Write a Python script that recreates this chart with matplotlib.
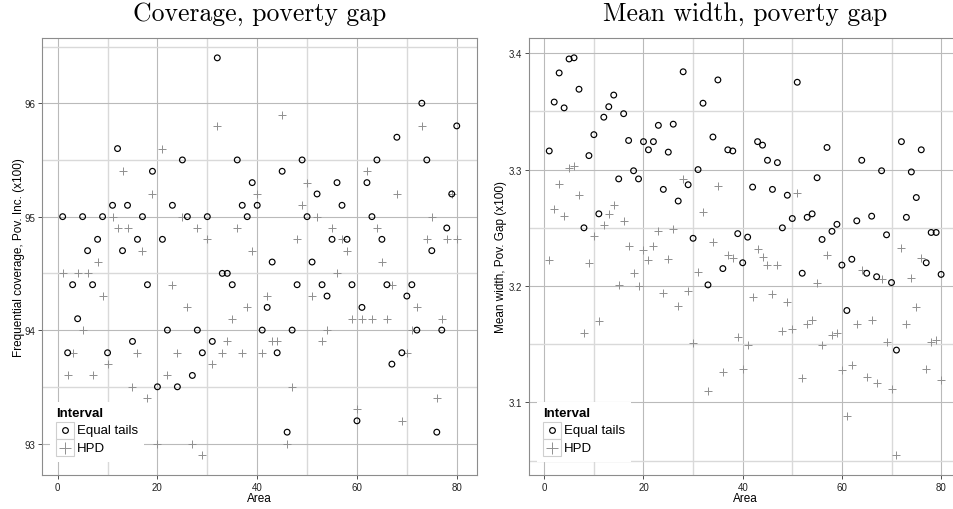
import matplotlib
matplotlib.use('Agg')
import matplotlib.pyplot as plt
from matplotlib.patches import Rectangle

area = list(range(1, 81))

cov_equal = [95.0, 93.8, 94.4, 94.1, 95.0, 94.7, 94.4, 94.8, 95.0, 93.8,
             95.1, 95.6, 94.7, 95.1, 93.9, 94.8, 95.0, 94.4, 95.4, 93.5,
             94.8, 94.0, 95.1, 93.5, 95.5, 95.0, 93.6, 94.0, 93.8, 95.0,
             93.9, 96.4, 94.5, 94.5, 94.4, 95.5, 95.1, 95.0, 95.3, 95.1,
             94.0, 94.2, 94.6, 93.8, 95.4, 93.1, 94.0, 94.4, 95.5, 95.0,
             94.6, 95.2, 94.4, 94.3, 94.8, 95.3, 95.1, 94.8, 94.4, 93.2,
             94.2, 95.3, 95.0, 95.5, 94.8, 94.4, 93.7, 95.7, 93.8, 94.3,
             94.4, 94.0, 96.0, 95.5, 94.7, 93.1, 94.0, 94.9, 95.2, 95.8]

cov_hpd = [94.5, 93.6, 93.8, 94.5, 94.0, 94.5, 93.6, 94.6, 94.3, 93.7,
           95.0, 94.9, 95.4, 94.9, 93.5, 93.8, 94.7, 93.4, 95.2, 93.0,
           95.6, 93.6, 94.4, 93.8, 95.0, 94.2, 93.0, 94.9, 92.9, 94.8,
           93.7, 95.8, 93.8, 93.9, 94.1, 94.9, 93.8, 94.2, 94.7, 95.2,
           93.8, 94.3, 93.9, 93.9, 95.9, 93.0, 93.5, 94.8, 95.1, 95.3,
           94.3, 95.0, 93.9, 94.0, 94.9, 94.5, 94.8, 94.7, 94.1, 93.3,
           94.1, 95.4, 94.1, 94.9, 94.6, 94.1, 94.4, 95.2, 93.2, 93.8,
           94.0, 94.2, 95.8, 94.8, 95.0, 93.4, 94.1, 94.8, 95.2, 94.8]

width_equal = [3.316, 3.358, 3.383, 3.353, 3.395, 3.396, 3.369, 3.250, 3.312, 3.330,
               3.262, 3.345, 3.354, 3.364, 3.292, 3.348, 3.325, 3.299, 3.292, 3.324,
               3.317, 3.324, 3.338, 3.283, 3.315, 3.339, 3.273, 3.384, 3.287, 3.241,
               3.300, 3.357, 3.201, 3.328, 3.377, 3.215, 3.317, 3.316, 3.245, 3.220,
               3.242, 3.285, 3.324, 3.321, 3.308, 3.283, 3.306, 3.250, 3.278, 3.258,
               3.375, 3.211, 3.259, 3.262, 3.293, 3.240, 3.319, 3.247, 3.253, 3.218,
               3.179, 3.223, 3.256, 3.308, 3.211, 3.260, 3.208, 3.299, 3.244, 3.203,
               3.145, 3.324, 3.259, 3.298, 3.276, 3.317, 3.220, 3.246, 3.246, 3.210]

width_hpd = [3.222, 3.266, 3.288, 3.260, 3.301, 3.303, 3.278, 3.160, 3.220, 3.243,
             3.170, 3.252, 3.262, 3.270, 3.201, 3.256, 3.234, 3.211, 3.200, 3.231,
             3.222, 3.234, 3.247, 3.194, 3.223, 3.249, 3.183, 3.292, 3.196, 3.151,
             3.212, 3.264, 3.110, 3.238, 3.286, 3.126, 3.227, 3.224, 3.156, 3.129,
             3.149, 3.191, 3.232, 3.225, 3.218, 3.193, 3.218, 3.161, 3.186, 3.163,
             3.280, 3.121, 3.167, 3.171, 3.203, 3.149, 3.227, 3.158, 3.160, 3.128,
             3.088, 3.132, 3.167, 3.214, 3.122, 3.171, 3.117, 3.206, 3.152, 3.112,
             3.055, 3.233, 3.167, 3.207, 3.182, 3.224, 3.129, 3.152, 3.154, 3.119]

legend_title = 'Interval'
legend_labels = ['Equal tails', 'HPD']

plt.rcParams['font.family'] = ['Liberation Sans', 'DejaVu Sans']

W, H = 954, 510
fig = plt.figure(figsize=(W / 100, H / 100), dpi=100)

HPD_COLOR = '#8f8f8f'


def style_axes(ax):
    ax.set_axisbelow(True)
    ax.grid(which='major', color='#bababa', lw=0.8)
    ax.grid(which='minor', color='#d9d9d9', lw=1.0)
    ax.tick_params(which='major', length=3, width=0.6, color='#333333',
                   labelsize=7, labelcolor='#222222', pad=2)
    ax.tick_params(which='minor', length=0)
    for s in ax.spines.values():
        s.set_color('#8c8c8c')
        s.set_linewidth(0.8)


def draw_legend(ax, w_px, h_px):
    # legend drawn inside the panel, bottom left, sizes in pixels
    fx = lambda p: p / w_px
    fy = lambda p: p / h_px
    tr = ax.transAxes
    ax.add_patch(Rectangle((fx(8), fy(12.5)), fx(94), fy(60), transform=tr,
                           facecolor='white', edgecolor='none', zorder=5))
    ax.text(fx(14), fy(61.5), legend_title, transform=tr, fontsize=9.5,
            fontweight='bold', ha='left', va='center', zorder=6)
    ys = [35.7, 18.5]
    for i, y in enumerate(ys):
        ax.add_patch(Rectangle((fx(14), fy(y)), fx(18), fy(17.2), transform=tr,
                               facecolor='white', edgecolor='#cfcfcf', lw=0.8, zorder=6))
        cx, cy = fx(23), fy(y + 8.6)
        if i == 0:
            ax.plot([cx], [cy], 'o', transform=tr, ms=4.1, mfc='none',
                    mec='black', mew=0.85, zorder=7, clip_on=False)
        else:
            ax.plot([cx], [cy], '+', transform=tr, ms=9, color=HPD_COLOR,
                    mew=0.7, zorder=7, clip_on=False)
        ax.text(fx(35), cy, legend_labels[i], transform=tr, fontsize=9.5,
                ha='left', va='center', zorder=7)


# left panel: coverage
w1, h1 = 434.4, 436.7
ax1 = fig.add_axes([42.3 / W, 1 - 475.7 / H, w1 / W, h1 / H])
ax1.scatter(area, cov_hpd, marker='+', s=36, color=HPD_COLOR, linewidths=0.7, zorder=3)
ax1.scatter(area, cov_equal, marker='o', s=17, facecolors='none',
            edgecolors='black', linewidths=0.85, zorder=4)
ax1.set_xlim(-3.08, 84)
ax1.set_ylim(92.725, 96.575)
ax1.set_xticks([0, 20, 40, 60, 80])
ax1.set_xticks([10, 30, 50, 70], minor=True)
ax1.set_yticks([93, 94, 95, 96])
ax1.set_yticks([93.5, 94.5, 95.5, 96.5], minor=True)
style_axes(ax1)
ax1.set_xlabel('Area', fontsize=8.5)
ax1.set_ylabel('Frequential coverage, Pov. Inc. (x100)', fontsize=8.5)
ax1.xaxis.set_label_coords(0.5, -(493 - 475.7) / h1)
ax1.yaxis.set_label_coords((25 - 42.3) / w1, 0.5)
ax1.set_title('Coverage, poverty gap', fontsize=18.5,
              family=['cmr10', 'DejaVu Serif'], pad=13.2)
draw_legend(ax1, w1, h1)

# right panel: mean width (cut by the right edge of the picture)
w2, h2 = 431.4, 436.7
ax2 = fig.add_axes([529.3 / W, 1 - 475.7 / H, w2 / W, h2 / H])
ax2.scatter(area, width_hpd, marker='+', s=36, color=HPD_COLOR, linewidths=0.7, zorder=3)
ax2.scatter(area, width_equal, marker='o', s=17, facecolors='none',
            edgecolors='black', linewidths=0.85, zorder=4)
ax2.set_xlim(-3.02, 83.95)
ax2.set_ylim(3.038, 3.413)
ax2.set_xticks([0, 20, 40, 60, 80])
ax2.set_xticks([10, 30, 50, 70], minor=True)
ax2.set_yticks([3.1, 3.2, 3.3, 3.4])
ax2.set_yticklabels(['3.1', '3.2', '3.3', '3.4'])
ax2.set_yticks([3.05, 3.15, 3.25, 3.35], minor=True)
style_axes(ax2)
ax2.set_xlabel('Area', fontsize=8.5)
ax2.set_ylabel('Mean width, Pov. Gap (x100)', fontsize=8.5)
ax2.xaxis.set_label_coords(0.5, -(493 - 475.7) / h2)
ax2.yaxis.set_label_coords((506.7 - 529.3) / w2, 0.5)
ax2.set_title('Mean width, poverty gap', fontsize=18.5,
              family=['cmr10', 'DejaVu Serif'], pad=13.2)
draw_legend(ax2, w2, h2)

fig.savefig('out.png', dpi=100)
